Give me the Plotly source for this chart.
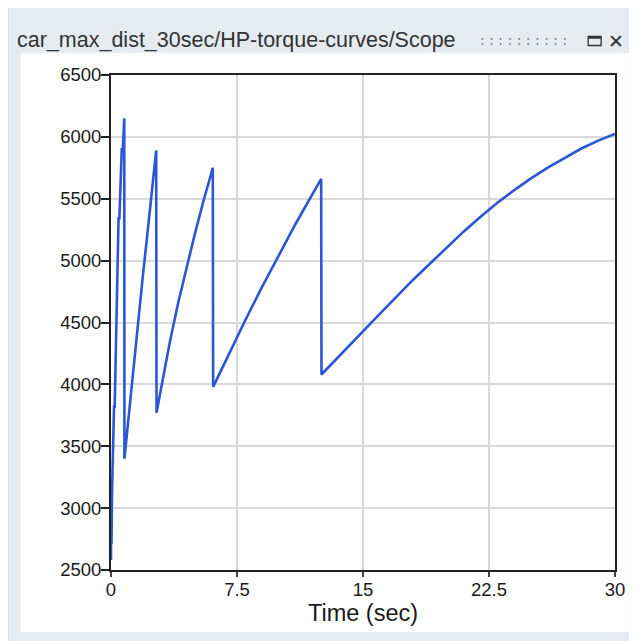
import plotly.graph_objects as go

# ---- data ----
gear1_time = [0.00, 0.00, 0.03, 0.06, 0.06, 0.10, 0.10, 0.18, 0.22, 0.30, 0.36, 0.45, 0.50, 0.58, 0.64, 0.70, 0.77, 0.79]
gear1_rpm  = [2580, 2720, 2720, 3120, 3120, 3420, 3420, 3820, 3820, 4440, 4830, 5340, 5340, 5630, 5900, 5900, 6150, 6150]
gear2_time = [0.80, 1.00, 1.30, 1.60, 1.90, 2.20, 2.50, 2.69]
gear2_rpm  = [3400, 3680, 4090, 4490, 4880, 5260, 5630, 5890]
gear3_time = [2.71, 3.00, 3.50, 4.00, 4.50, 5.00, 5.50, 6.06]
gear3_rpm  = [3770, 3990, 4340, 4660, 4950, 5220, 5480, 5750]
gear4_time = [6.08, 7.00, 8.00, 9.00, 10.00, 11.00, 12.00, 12.51]
gear4_rpm  = [3980, 4240, 4520, 4790, 5050, 5300, 5540, 5660]
gear5_time = [12.53, 14.00, 16.00, 18.00, 20.00, 21.00, 22.00, 23.00, 24.00, 25.00, 26.00, 27.00, 28.00, 29.00, 30.00]
gear5_rpm  = [4080, 4290, 4570, 4848, 5110, 5236, 5355, 5467, 5570, 5665, 5752, 5832, 5906, 5970, 6024]

x_tick_vals = [0, 7.5, 15, 22.5, 30]
x_tick_text = ["0", "7.5", "15", "22.5", "30"]
y_tick_vals = [2500, 3000, 3500, 4000, 4500, 5000, 5500, 6000, 6500]

window_title = "car_max_dist_30sec/HP-torque-curves/Scope"
x_title = "Time (sec)"

time = gear1_time + gear2_time + gear3_time + gear4_time + gear5_time
rpm = gear1_rpm + gear2_rpm + gear3_rpm + gear4_rpm + gear5_rpm

# ---- layout geometry (page pixels; the page body has an 8px margin) ----
BODY = 8
PAGE_W, PAGE_H = 637, 641
L, R, T, B = 111, 619, 75, 570
pw, ph = R - L, B - T


def px(x):
    return (x - L) / pw


def py(y):
    return (B - y) / ph


FONT = "Liberation Sans, Arial, sans-serif"

fig = go.Figure()
fig.add_trace(go.Scatter(x=time, y=rpm, mode="lines",
                         line=dict(color="#2b56d4", width=2.6),
                         showlegend=False, hoverinfo="skip"))

shapes = [
    # window background
    dict(type="rect", xref="paper", yref="paper", x0=px(7), x1=px(660), y0=py(3), y1=py(660),
         fillcolor="#e6ebef", line=dict(color="#b4b8bb", width=1), layer="below"),
    # white panel
    dict(type="rect", xref="paper", yref="paper", x0=px(20), x1=px(633), y0=py(53), y1=py(632),
         fillcolor="white", line=dict(width=0), layer="below"),
    # maximize icon
    dict(type="rect", xref="paper", yref="paper", x0=px(592), x1=px(605), y0=py(36.5), y1=py(45.5),
         fillcolor="rgba(0,0,0,0)", line=dict(color="#333", width=1.3), layer="above"),
    dict(type="line", xref="paper", yref="paper", x0=px(592), x1=px(605), y0=py(37.5), y1=py(37.5),
         line=dict(color="#333", width=2.5), layer="above"),
]

annotations = [
    dict(text=window_title, xref="paper", yref="paper", x=px(14), y=py(39.5),
         xanchor="left", yanchor="middle", showarrow=False,
         font=dict(family=FONT, size=21.5, color="#333333")),
    dict(text=": : : : : : : : : :", xref="paper", yref="paper", x=px(527), y=py(40),
         xanchor="center", yanchor="middle", showarrow=False,
         font=dict(family="DejaVu Sans", size=14, color="#6f6f6f")),
    dict(text="✕", xref="paper", yref="paper", x=px(620), y=py(40.5),
         xanchor="center", yanchor="middle", showarrow=False,
         font=dict(family="DejaVu Sans", size=19, color="#333333")),
]

fig.update_layout(
    width=PAGE_W - BODY, height=PAGE_H - BODY,
    margin=dict(l=L - BODY, r=PAGE_W - R, t=T - BODY, b=PAGE_H - B, pad=0),
    paper_bgcolor="white", plot_bgcolor="white",
    shapes=shapes, annotations=annotations,
    font=dict(family=FONT, color="#1a1a1a"),
)
fig.update_xaxes(
    range=[0, 30], tickvals=x_tick_vals, ticktext=x_tick_text,
    showgrid=True, gridcolor="#d9d9d9", gridwidth=2,
    showline=True, linecolor="#222", linewidth=2, mirror=True,
    ticks="outside", ticklen=5, tickcolor="#444", tickwidth=1.5,
    ticklabelstandoff=-3,
    tickfont=dict(family=FONT, size=18.5, color="#1a1a1a"),
    title=dict(text=x_title, font=dict(family=FONT, size=23.5, color="#1a1a1a"), standoff=0),
    zeroline=False,
)
fig.update_yaxes(
    range=[2500, 6500], tickvals=y_tick_vals,
    showgrid=True, gridcolor="#d9d9d9", gridwidth=2,
    showline=True, linecolor="#222", linewidth=2, mirror=True,
    ticks="outside", ticklen=8, tickcolor="#222", tickwidth=1.5,
    ticklabelstandoff=-4,
    tickfont=dict(family=FONT, size=18.5, color="#1a1a1a"),
    zeroline=False,
)

fig.write_html("out.html")
